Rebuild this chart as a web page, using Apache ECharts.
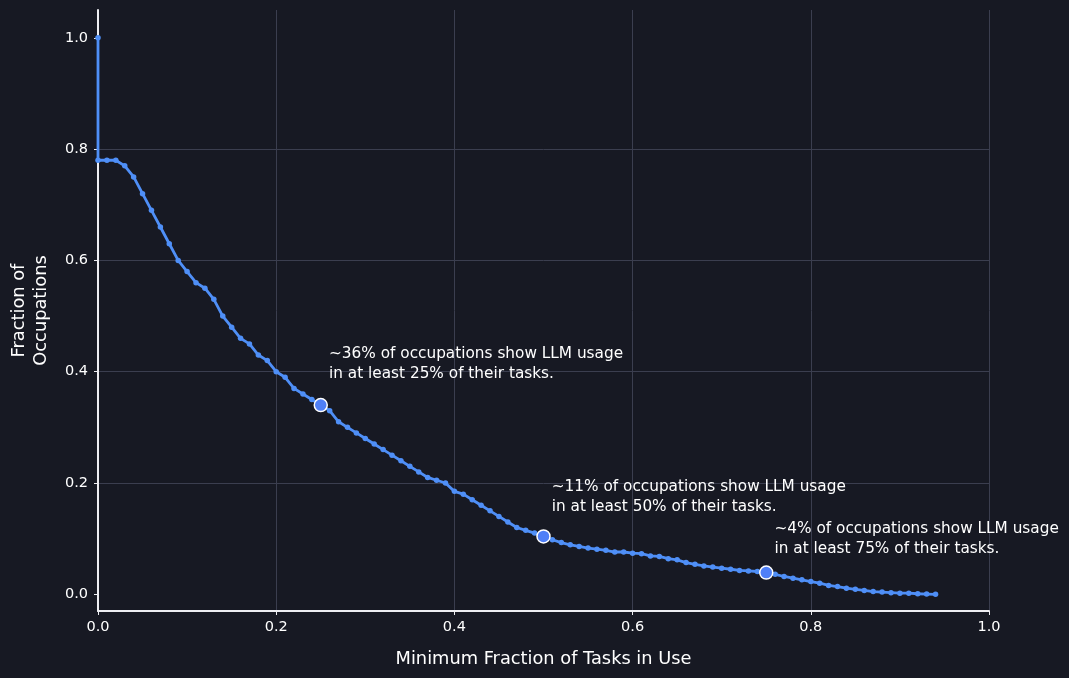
<!DOCTYPE html>
<html><head><meta charset="utf-8">
<script src="https://cdn.jsdelivr.net/npm/echarts@6/dist/echarts.min.js"></script>
<style>html,body{margin:0;padding:0;background:#171923;} #c{width:1069px;height:678px;}</style>
</head><body><div id="c"></div>
<script>
// ---- data ----
const startPoint = [0.0, 1.0];
const xValues = [0.00,0.01,0.02,0.03,0.04,0.05,0.06,0.07,0.08,0.09,
  0.10,0.11,0.12,0.13,0.14,0.15,0.16,0.17,0.18,0.19,
  0.20,0.21,0.22,0.23,0.24,0.25,0.26,0.27,0.28,0.29,
  0.30,0.31,0.32,0.33,0.34,0.35,0.36,0.37,0.38,0.39,
  0.40,0.41,0.42,0.43,0.44,0.45,0.46,0.47,0.48,0.49,
  0.50,0.51,0.52,0.53,0.54,0.55,0.56,0.57,0.58,0.59,
  0.60,0.61,0.62,0.63,0.64,0.65,0.66,0.67,0.68,0.69,
  0.70,0.71,0.72,0.73,0.74,0.75,0.76,0.77,0.78,0.79,
  0.80,0.81,0.82,0.83,0.84,0.85,0.86,0.87,0.88,0.89,
  0.90,0.91,0.92,0.93,0.94];
const fractionOccupations = [0.78,0.78,0.78,0.77,0.75,0.72,0.69,0.66,0.63,0.60,
  0.58,0.56,0.55,0.53,0.50,0.48,0.46,0.45,0.43,0.42,
  0.40,0.39,0.37,0.36,0.35,0.34,0.33,0.31,0.30,0.29,
  0.28,0.27,0.26,0.25,0.24,0.23,0.22,0.21,0.205,0.20,
  0.185,0.18,0.17,0.16,0.15,0.14,0.13,0.12,0.115,0.11,
  0.104,0.098,0.093,0.089,0.086,0.083,0.081,0.079,0.076,0.076,
  0.074,0.073,0.069,0.068,0.064,0.062,0.057,0.054,0.051,0.049,
  0.047,0.045,0.043,0.042,0.041,0.039,0.036,0.032,0.029,0.026,
  0.023,0.020,0.016,0.014,0.011,0.009,0.007,0.005,0.004,0.003,
  0.002,0.002,0.001,0.0005,0.0];
const highlightX = [0.25, 0.50, 0.75];
const highlightY = [0.34, 0.104, 0.039];
const annotationTexts = [
  '~36% of occupations show LLM usage\nin at least 25% of their tasks.',
  '~11% of occupations show LLM usage\nin at least 50% of their tasks.',
  '~4% of occupations show LLM usage\nin at least 75% of their tasks.'
];
const yTickValues = [0.0, 0.2, 0.4, 0.6, 0.8, 1.0];
const xAxisTitle = 'Minimum Fraction of Tasks in Use';
const yAxisTitle = 'Fraction of\nOccupations';

// ---- styles ----
const BG = '#171923';
const GRIDC = '#3b3e4f';
const AXISC = '#eeeef2';
const TXT = '#ffffff';
const LINEC = '#4f8ff7';
const MARKC = '#4f7ff7';
const FONT = 'DejaVu Sans';
const labelOffsets = [[15.5, -53.5], [15.5, -52.2], [15.5, -46]];

const lineData = [startPoint].concat(xValues.map((x, i) => [x, fractionOccupations[i]]));
const highlightData = highlightX.map((x, i) => ({
  value: [x, highlightY[i]],
  label: { formatter: annotationTexts[i], position: labelOffsets[i] }
}));

const chart = echarts.init(document.getElementById('c'), null, { renderer: 'canvas' });
chart.setOption({
  animation: false,
  backgroundColor: BG,
  grid: { left: 97, right: 80, top: 10, bottom: 67, containLabel: false },
  xAxis: {
    type: 'value', min: 0, max: 1, interval: 0.2,
    name: xAxisTitle, nameLocation: 'middle', nameGap: 39,
    nameTextStyle: { color: TXT, fontSize: 17.8, fontFamily: FONT },
    axisLine: { show: true, onZero: false, lineStyle: { color: AXISC, width: 2 } },
    axisTick: { show: true, length: 4, lineStyle: { color: AXISC, width: 1 } },
    axisLabel: { color: TXT, fontSize: 14.5, fontFamily: FONT, margin: 9, formatter: v => v.toFixed(1) },
    splitLine: { show: true, lineStyle: { color: GRIDC, width: 1 } }
  },
  yAxis: {
    type: 'value', min: -0.03, max: 1.05,
    name: yAxisTitle, nameLocation: 'middle', nameGap: 46,
    nameTextStyle: { color: TXT, fontSize: 17.8, fontFamily: FONT, lineHeight: 22 },
    axisLine: { show: true, onZero: false, lineStyle: { color: AXISC, width: 2 } },
    axisTick: { show: true, length: 4, customValues: yTickValues, lineStyle: { color: AXISC, width: 1 } },
    axisLabel: { color: TXT, fontSize: 14.5, fontFamily: FONT, margin: 10, customValues: yTickValues, formatter: v => v.toFixed(1) },
    splitLine: { show: true, showMinLine: false, showMaxLine: false, lineStyle: { color: GRIDC, width: 1 } }
  },
  series: [
    {
      type: 'line', data: lineData, smooth: false,
      symbol: 'circle', symbolSize: 5.5, showSymbol: true,
      lineStyle: { color: LINEC, width: 2.8 },
      itemStyle: { color: LINEC },
      z: 3
    },
    {
      type: 'scatter', data: highlightData,
      symbol: 'circle', symbolSize: 13,
      itemStyle: { color: MARKC, borderColor: '#ffffff', borderWidth: 1.5, opacity: 1 },
      label: { show: true, color: TXT, fontSize: 15.3, fontFamily: FONT, lineHeight: 20, align: 'left', verticalAlign: 'top', textBorderWidth: 0, opacity: 1 },
      z: 5
    }
  ]
});
</script></body></html>
